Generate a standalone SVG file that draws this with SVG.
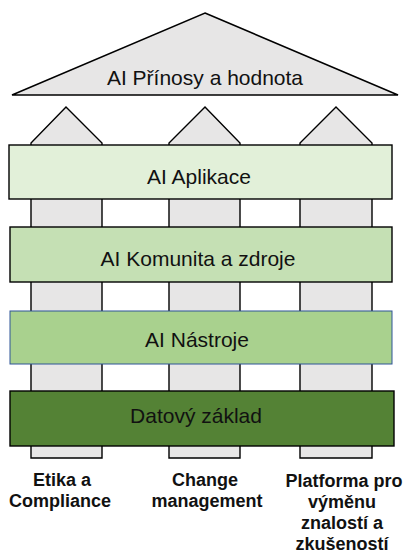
<svg xmlns="http://www.w3.org/2000/svg" width="407" height="555" viewBox="0 0 407 555">
<style>
.pillar{fill:#E7E6E6;stroke:#000;stroke-width:1.4;stroke-linejoin:miter}
.roof{fill:#E7E6E6;stroke:#000;stroke-width:1.5}
.box{stroke:#000;stroke-width:1.4}
.lbl{font-family:"Liberation Sans",Arial,sans-serif;font-size:21px;fill:#111;text-anchor:middle}
.cap{font-family:"Liberation Sans",Arial,sans-serif;font-size:18px;font-weight:bold;fill:#111;text-anchor:middle}
</style>
<rect width="407" height="555" fill="#fff"/>
<g id="roof">
<polygon class="roof" points="205,13 398,95 12,95"/>
<text class="lbl" x="205" y="85">AI Přínosy a hodnota</text>
</g>
<g id="pillar-1">
<polygon class="pillar" points="66,107 102,143 102,458 31,458 31,143"/>
<text class="cap" x="62" y="486">Etika a</text>
<text class="cap" x="60" y="507">Compliance</text>
</g>
<g id="pillar-2">
<polygon class="pillar" points="205,107 240,143 240,458 169,458 169,143"/>
<text class="cap" x="205" y="486">Change</text>
<text class="cap" x="207" y="507">management</text>
</g>
<g id="pillar-3">
<polygon class="pillar" points="336,107 372,143 372,458 300,458 300,143"/>
<text class="cap" x="344" y="487">Platforma pro</text>
<text class="cap" x="342" y="508">výměnu</text>
<text class="cap" x="342" y="529">znalostí a</text>
<text class="cap" x="342" y="550">zkušeností</text>
</g>
<g id="ai-aplikace">
<rect class="box" x="9" y="145" width="383" height="54" fill="#E2F0D9"/>
<text class="lbl" x="199" y="184">AI Aplikace</text>
</g>
<g id="ai-komunita">
<rect class="box" x="10" y="227" width="382" height="55" fill="#C5E0B4"/>
<text class="lbl" x="198" y="266">AI Komunita a zdroje</text>
</g>
<g id="ai-nastroje">
<rect x="10" y="311" width="382" height="53" fill="#A9D18E" stroke="#2F5597" stroke-width="1"/>
<text class="lbl" x="197" y="347">AI Nástroje</text>
</g>
<g id="datovy-zaklad">
<rect class="box" x="10" y="391" width="384" height="55" fill="#548235"/>
<text class="lbl" x="196" y="423">Datový základ</text>
</g>
<g id="connectors"></g>
</svg>
